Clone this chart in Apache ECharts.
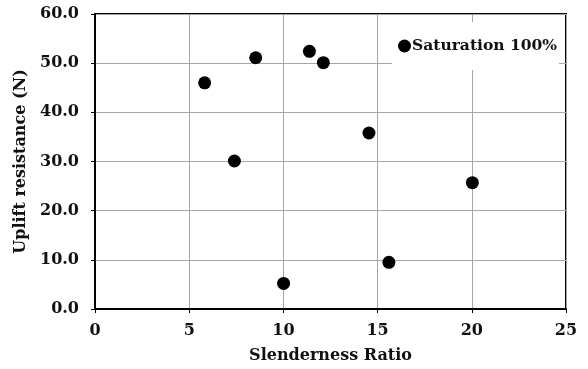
<!DOCTYPE html>
<html>
<head>
<meta charset="utf-8">
<script src="https://cdn.jsdelivr.net/npm/echarts@6/dist/echarts.min.js"></script>
<style>
  html, body { margin: 0; padding: 0; background: #fff; }
  #chart { width: 588px; height: 369px; }
</style>
</head>
<body>
<div id="chart"></div>
<script>
// Slenderness ratio vs. uplift resistance, saturation 100%
const slenderness = [5.82, 8.53, 7.40, 10.01, 11.38, 12.12, 14.54, 20.03, 15.60];
const uplift      = [46.0, 51.1, 30.1, 5.2, 52.4, 50.1, 35.8, 25.7, 9.5];
const seriesName  = 'Saturation 100%';
const xTitle = 'Slenderness Ratio';
const yTitle = 'Uplift resistance (N)';

const points = slenderness.map((x, i) => [x, uplift[i]]);
const FONT = 'DejaVu Serif';

const chart = echarts.init(document.getElementById('chart'), null, { renderer: 'canvas' });
chart.setOption({
  animation: false,
  backgroundColor: '#ffffff',
  grid: {
    left: 95, right: 22, top: 14, bottom: 59,
    show: true, borderColor: '#000', borderWidth: 2, backgroundColor: 'transparent'
  },
  legend: {
    data: [seriesName],
    left: 392, top: 22,
    padding: [16, 2, 16, 6],
    itemGap: 0,
    itemWidth: 13, itemHeight: 13,
    icon: 'circle',
    backgroundColor: '#ffffff',
    textStyle: { fontFamily: FONT, fontWeight: 'bold', fontSize: 15.5, color: '#111', padding: [0, 0, 0, -4] }
  },
  xAxis: {
    type: 'value', min: 0, max: 25, interval: 5,
    name: xTitle, nameLocation: 'middle', nameGap: 39,
    nameTextStyle: { fontFamily: FONT, fontWeight: 'bold', fontSize: 16, color: '#111' },
    axisLine: { show: true, onZero: false, lineStyle: { color: '#000', width: 2 } },
    axisTick: { show: true, inside: false, length: 4, lineStyle: { color: '#000', width: 1 } },
    axisLabel: { margin: 14, fontFamily: FONT, fontWeight: 'bold', fontSize: 16, color: '#111' },
    splitLine: { show: true, lineStyle: { color: '#a6a6a6', width: 1 } }
  },
  yAxis: {
    type: 'value', min: 0, max: 60, interval: 10,
    name: yTitle, nameLocation: 'middle', nameGap: 60,
    nameTextStyle: { fontFamily: FONT, fontWeight: 'bold', fontSize: 16, color: '#111' },
    axisLine: { show: true, onZero: false, lineStyle: { color: '#000', width: 2 } },
    axisTick: { show: true, inside: false, length: 4, lineStyle: { color: '#000', width: 1 } },
    axisLabel: {
      margin: 16, fontFamily: FONT, fontWeight: 'bold', fontSize: 16, color: '#111',
      formatter: v => v.toFixed(1)
    },
    splitLine: { show: true, lineStyle: { color: '#a6a6a6', width: 1 } }
  },
  series: [{
    name: seriesName,
    type: 'scatter',
    data: points,
    symbol: 'circle',
    symbolSize: 13,
    itemStyle: { color: '#000', opacity: 1 }
  }]
});
</script>
</body>
</html>
